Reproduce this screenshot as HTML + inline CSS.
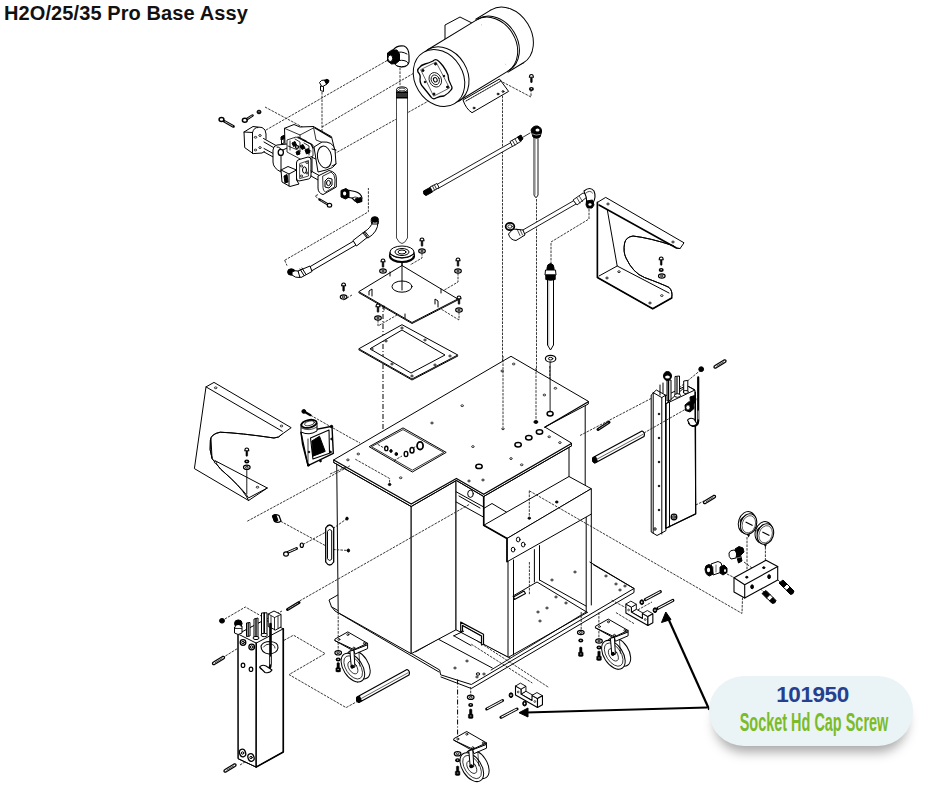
<!DOCTYPE html>
<html><head><meta charset="utf-8">
<style>
html,body{margin:0;padding:0;background:#fff;}
body{width:940px;height:788px;position:relative;overflow:hidden;font-family:"Liberation Sans",sans-serif;}
#title{position:absolute;left:4px;top:2px;font-weight:bold;font-size:20px;color:#111;white-space:nowrap;letter-spacing:0.1px;}
svg{position:absolute;left:0;top:0;}
.s{stroke:#000;fill:none;stroke-width:1;stroke-linejoin:round;stroke-linecap:round}
.t{stroke:#000;fill:none;stroke-width:1.6;stroke-linejoin:round;stroke-linecap:round}
.w{stroke:#000;fill:#fff;stroke-width:1;stroke-linejoin:round}
.k{stroke:#000;fill:#000;stroke-width:1}
.d{stroke:#222;fill:none;stroke-width:0.9;stroke-dasharray:2.6 1.1}
.dd{stroke:#000;fill:none;stroke-width:1;stroke-dasharray:5 2 1 2}
#callout{position:absolute;left:709px;top:676px;width:204px;height:70px;border-radius:35px;background:#eaf3f6;box-shadow:0 12px 12px -6px rgba(0,0,0,0.35);}
#c1{position:absolute;left:1.5px;width:204px;top:6px;text-align:center;font-weight:bold;font-size:22.5px;color:#25408f;letter-spacing:-0.4px;}
#c2{position:absolute;left:-97.5px;width:404px;top:32px;text-align:center;font-size:25px;font-weight:bold;color:#7cbb28;transform:scaleX(0.578);white-space:nowrap;}
</style></head>
<body>
<div id="title">H2O/25/35 Pro Base Assy</div>
<svg width="940" height="788" viewBox="0 0 940 788">
<!-- ===== dashed guide lines ===== -->
<g id="dashes">
  <path class="d" d="M266,130 L388,60"/>
  <path class="d" d="M322,127 L414,73"/>
  <path class="d" d="M334,154 L432,99"/>
  <path class="d" d="M265,107 L306,129"/>
  <path class="d" d="M322,92 L322,140"/>
  <path class="d" d="M400,64 L400,86"/>
  <path class="d" d="M502.5,82 L531,97 L531,90"/>
  <path class="d" d="M502.5,92 L502.5,426"/>
  <path class="d" d="M536.5,199 L536.5,421"/>
  <path class="d" d="M589,209 L589,219 L551,242 L551,265"/>
  <path class="dd" d="M383,304 L383,436"/>
  <path class="d" d="M549.8,366 L549.8,413"/>
</g>



<!-- ===== screw defs ===== -->
<defs>
  <g id="scr">
    <path d="M-0.8,-2 L-0.8,2.5 L0,3.5 L0.8,2.5 L0.8,-2" fill="#000" stroke="#000" stroke-width="0.6"/>
    <path d="M-2,-2.2 Q-2,-5 0,-5 Q2,-5 2,-2.2 Z" fill="#fff" stroke="#000" stroke-width="1.1"/>
  </g>
  <g id="wsh"><ellipse cx="0" cy="0" rx="3.3" ry="2.2" fill="#fff" stroke="#000" stroke-width="1.2"/><ellipse cx="0" cy="0" rx="1.3" ry="0.9" fill="none" stroke="#000" stroke-width="0.9"/></g>
  <g id="nut"><ellipse cx="0" cy="0" rx="2.5" ry="2" fill="#000"/><ellipse cx="0" cy="-0.3" rx="0.8" ry="0.5" fill="#fff"/></g>
  <g id="caster">
    <path class="w" d="M0,0 L12.9,-7.2 L32.7,4.2 L32.7,5.7 L19,12 L0,1.5 Z"/>
    <path class="s" d="M0,1.5 L19,10.5 L32.7,4.2 M19,10.5 L19,12"/>
    <circle class="s" cx="4" cy="0.3" r="1" style="stroke-width:0.8"/><circle class="s" cx="13" cy="-4.5" r="1" style="stroke-width:0.8"/><circle class="s" cx="29.5" cy="4.2" r="1" style="stroke-width:0.8"/><circle class="s" cx="19" cy="9" r="1" style="stroke-width:0.8"/>
    <ellipse class="w" cx="23.5" cy="25.5" rx="9.5" ry="16" transform="rotate(-33 23.5 25.5)"/>
    <path d="M10.5,17 L17,12.5 L29,38 L22.5,42.5 Z" fill="#fff"/>
    <path class="s" d="M10.5,17 L17,12.5 M29,38.5 L22.5,43"/>
    <ellipse class="w" cx="18" cy="28.5" rx="9.5" ry="16" transform="rotate(-33 18 28.5)"/>
    <ellipse class="s" cx="18.3" cy="28.3" rx="7.3" ry="13" transform="rotate(-33 18.3 28.3)" style="stroke-width:0.7"/>
    <ellipse class="s" cx="18" cy="28.5" rx="4" ry="7" transform="rotate(-33 18 28.5)" style="stroke-width:0.7"/>
    <path class="w" d="M15,12 L19,11 L20,28 L16.5,29 Z"/>
    <path class="w" d="M19,11 L32.7,5.7 L32.7,9.5 L20,15 Z"/>
    <path class="s" d="M24,13 L25,27" style="stroke-width:0.7"/>
    <circle class="k" cx="17.5" cy="27.5" r="1.5"/>
  </g>
  <g id="bolt"><path d="M-1.2,-4.5 Q0,-5.5 1.2,-4.5 L1.2,0 L2.3,0.5 L2.3,4 Q0,5 -2.3,4 L-2.3,0.5 L-1.2,0 Z" fill="#000" stroke="#000" stroke-width="0.5"/><path d="M-0.8,2 L0.8,2" stroke="#fff" stroke-width="0.6"/></g>
  <g id="pin"><path d="M-5,3 L4,-2.5 Q6,-3 6,-1.5 Q6,-0.5 5,0 L-4,5.5 Q-6,6 -6,4.5 Q-6,3.5 -5,3 Z" fill="#fff" stroke="#000" stroke-width="1.3"/><path d="M-3.5,3.8 L4,-0.8" stroke="#000" stroke-width="0.7"/></g>
  <g id="hole"><ellipse cx="0" cy="0" rx="1.3" ry="0.9" fill="#fff" stroke="#000" stroke-width="0.8"/></g>
</defs>
<!-- ===== top cover plate ===== -->
<g id="plate">
  <path class="d" d="M343.6,300 L352,295"/>
  <path class="d" d="M422,253 L422,258 L410,265"/>
  <path class="d" d="M458,273 L458,282 L441,292"/>
  <path class="d" d="M459,312 L459,320 L441,309"/>
  <path class="d" d="M378,320 L378,326 L397,315"/>
  <path class="s" d="M402,262 L402,290"/>
  <path class="w" d="M358.8,291.7 L402,265.5 L457.8,299 L412,322.5 Z"/>
  <path class="s" d="M358.8,292.7 L412,323.5 L457.8,300"/>
  <ellipse class="s" cx="402" cy="286.6" rx="10" ry="5.6"/>
  <path class="s" d="M402,262 L402,290"/>
  <path class="s" d="M369,295 L369,291 L372,289 L372,296 M441,293 L441,289 M384,310 L384,306 M405,318 L405,314 M435,304 L435,299 L438,301 L438,307 M390,276 L390,272"/>
  <!-- grommet -->
  <ellipse class="w" cx="402" cy="256" rx="12" ry="6" style="stroke-width:2.2"/>
  <path class="w" d="M390,256 L390,252 L414,252 L414,256"/>
  <ellipse class="w" cx="402" cy="252" rx="12" ry="6"/>
  <ellipse class="w" cx="402" cy="252" rx="7" ry="3.5"/>
  <ellipse class="s" cx="402" cy="252" rx="4" ry="2"/>
  <path class="s" d="M390,254 Q402,262 414,254"/>
  <use href="#scr" x="383" y="264"/><use href="#wsh" x="383" y="271"/>
  <use href="#scr" x="422" y="243"/><use href="#wsh" x="422" y="251"/>
  <use href="#scr" x="458" y="263"/><use href="#wsh" x="458" y="271"/>
  <use href="#scr" x="343.6" y="288"/><use href="#wsh" x="343.6" y="297"/>
  <use href="#scr" x="378" y="309"/><use href="#wsh" x="378" y="318"/>
  <use href="#scr" x="459" y="301"/><use href="#wsh" x="459" y="310"/>
</g>
<!-- ===== gasket ===== -->
<g id="gasket">
  <path class="w" fill-rule="evenodd" d="M358.8,348.8 L402,324.7 L457.8,355 L412,379 Z M370,348.8 L402,330 L445,355 L411,373 Z"/>
  <path class="s" d="M358.8,349.8 L412,380 L457.8,356"/>
  <use href="#hole" x="372" y="349"/><use href="#hole" x="402" y="328"/><use href="#hole" x="450" y="356"/><use href="#hole" x="412" y="376"/>
  <use href="#hole" x="386" y="341"/><use href="#hole" x="425" y="340"/><use href="#hole" x="435" y="365"/><use href="#hole" x="392" y="364"/>
</g>
<!-- ===== right bracket ===== -->
<g id="bracketR">
  <path class="w" d="M597.4,202.4 L605.7,197.4 L684,242.8 L680,248.6 Q676,249 673,245.6 Q650,238 633,236 Q626,237 624.6,243 Q623,252 626,258 Q633,273 644.5,277.5 Q662,284 669,287.4 Q673,291 671.7,298 L652.7,308.8 L597.4,277.5 Z"/>
  <path class="t" d="M597.4,202.4 L597.4,277.5 L652.7,308.8 L671.7,298"/>
  <path class="t" d="M599,205 L676,247.8"/>
  <path class="s" d="M607.3,209.8 L617.2,266 L669,293 M617.2,266 L599,276"/>
  <path class="s" d="M680,248.6 Q676,249 673,245.6 Q650,238 633,236 Q626,237 624.6,243 Q623,252 626,258 Q633,273 644.5,277.5 Q662,284 669,287.4 Q673,291 671.7,298"/>
  <use href="#hole" x="608" y="204"/><use href="#hole" x="673" y="242"/><use href="#hole" x="607" y="278"/><use href="#hole" x="619" y="271.7"/><use href="#hole" x="650" y="303"/><use href="#hole" x="661.8" y="295.6"/>
  <use href="#scr" x="661.2" y="262"/><use href="#nut" x="661.2" y="270"/><use href="#wsh" x="661.8" y="276"/>
</g>

<!-- ===== left hose ===== -->
<g id="hose3">
  <path class="d" d="M284.7,260.3 L368.4,211.8 L368.4,188"/>
  <path class="d" d="M284.7,260.3 L287,265.6"/>
  <path class="w" d="M309.8,266.8 L353.7,241 L356,245 L311.6,270.9 Z"/>
  <path class="w" d="M353,240.5 L364,232 Q367,231 369,236 L356.5,246 Z"/>
  <path class="w" d="M364,232 Q371,228 373,221 L378,222 Q378,232 368,238 Z"/>
  <path class="s" d="M363,233 L367,238 M365,231.5 L369,236.5"/>
  <ellipse class="k" cx="374.8" cy="219.5" rx="3.6" ry="2.8"/>
  <path class="s" d="M371,221 L372,224 L378,224 L378.5,221"/>
  <path class="w" d="M298,271 L310,266 L312,271.5 L301,277.5 Q297,276 298,271 Z"/>
  <path class="s" d="M300,269 L304,275.5 M302,268 L306,274.5"/>
  <ellipse class="k" cx="291.3" cy="272" rx="3.7" ry="3.2"/>
  <path class="w" d="M292,275 Q295,278 300,277.5 L298,271 Q295,270 292,272 Z"/>
</g>
<!-- ===== pump ===== -->
<g id="pump">
  <!-- bolts / nut left -->
  <path class="s" d="M223.5,120.8 L233.5,126.5" style="stroke-width:2.6"/>
  <path class="s" d="M225,121.6 L233,126.2" style="stroke:#fff;stroke-width:0.7;stroke-dasharray:0.8 0.8"/>
  <ellipse class="w" cx="221.5" cy="119.5" rx="2.4" ry="2" style="stroke-width:1.5"/>
  <path class="s" d="M246.5,119.3 L252.5,115.5" style="stroke-width:2.6"/>
  <path class="s" d="M247.5,118.7 L252,115.8" style="stroke:#fff;stroke-width:0.7;stroke-dasharray:0.8 0.8"/>
  <ellipse class="w" cx="244.8" cy="120.3" rx="2.4" ry="2" style="stroke-width:1.5"/>
  <ellipse class="k" cx="259" cy="112" rx="2" ry="1.8"/>
  <ellipse cx="259" cy="111.7" rx="0.7" ry="0.5" fill="#fff"/>
  <!-- fitting top -->
  <path class="w" d="M319.5,82.5 Q321,79.5 325,80 L327,84 L322,87 Z"/>
  <path class="k" d="M324.5,80.5 Q327,78 329,80.5 Q329,83 326.5,84 Z"/>
  <path class="w" d="M320.5,86 L320.5,90.5 L323.5,91.5 L323.5,86.5 Z"/>
  <!-- left flange -->
  <path class="w" d="M244,132 L253,126.5 L262,127.5 Q266,129 266,134 L266,148 Q266,152 262,153 L253.1,153.6 L244.7,147.6 Z"/>
  <path class="s" d="M244,132 L252.5,132.5 M252.5,132.5 L252.5,153.5 M252.5,132.5 Q254,127 258,127.5"/>
  <use href="#hole" x="255.5" y="137.3"/><use href="#hole" x="260" y="135.5"/><use href="#hole" x="255.5" y="150"/><use href="#hole" x="260" y="147.6"/>
  <!-- rods -->
  <path class="w" d="M264,138 L276,145 L276,158 L264,151 Z" style="stroke:none"/>
  <path class="s" d="M263.5,138.5 L276,145.5 M264,142 L276,149 M264,148.5 L275,154.5 M264,152 L275,158"/>
  <!-- upper box -->
  <path class="w" d="M284.5,128.3 L294,124.5 L300,127 L313.4,126.5 L331.5,136.7 L335,151.2 L318,160 L285,145 Z"/>
  <path class="s" d="M284.5,128.3 L300,135 L313.4,128 M300,135 L300,145 M313.4,126.5 L316,140 L331.5,146" style="stroke-width:0.8"/>
  <path class="s" d="M315,128 L331,137.5" style="stroke-width:1.4"/>
  <!-- main front -->
  <path class="w" d="M273,150 Q273,146 277,145 L287,144 L312,156 L312,172 L298,180 L281,172 Q273,168 273,162 Z"/>
  <path class="s" d="M277,147 Q281,147 281,151 L281,171 M281,151 L287,148 L311,159"/>
  <ellipse class="w" cx="280.8" cy="152.4" rx="2.6" ry="3" style="stroke-width:1.3"/>
  <path class="w" d="M281.5,136.5 L284,135.5 L284,143 L281.5,144 Z"/>
  <path class="k" d="M281,137 L284.5,135.5 L284.5,138.5 L281,140 Z"/>
  <!-- dark fittings cluster -->
  <path class="w" d="M287,140 L296,137 L313,145 L313,156 L302,160 L287,152 Z" style="stroke-width:0.8"/>
  <path class="s" d="M290,141 L290,150 M295,139 L300,142 L300,152 M304,143 L309,146 L309,155 M288,146 L300,151 M300,147 L311,151" style="stroke-width:0.8"/>
  <path class="k" d="M292,143 L295,141.5 L296.5,145 L293.5,146.5 Z"/>
  <path class="k" d="M300,146 L303,144.5 L305,148 L302,149.5 Z"/>
  <path class="k" d="M305,150 L308.5,148.5 L310,152.5 L306.5,154 Z"/>
  <path class="k" d="M296,152 L299,151 L300,154 L297,155 Z"/>
  <ellipse class="w" cx="297" cy="147" rx="1.6" ry="1.4" style="stroke-width:1.2"/>
  <path class="s" d="M303,140 L311,144 L313,148 M298,137 L306,141" style="stroke-width:1.3"/>
  <!-- right round face -->
  <path class="w" d="M314,147 L322,142 Q333,141 335,150 L336,164 Q334,168 326,170 L318,172 Z"/>
  <ellipse class="w" cx="324.5" cy="157" rx="7" ry="11" transform="rotate(-10 324.5 157)"/>
  <path class="s" d="M332,149 L336,150 M332,166 L336,164"/>
  <!-- front plate -->
  <path class="w" d="M296.5,163 Q296.5,160 299,159.6 L308,157 Q311,157 311,160 L311,176 Q311,178 308.5,179 L299,181 Q296.5,181 296.5,178 Z"/>
  <path class="s" d="M300,163.5 L308.5,160.5 L308.5,176 L300,178.5 Z" style="stroke-width:0.7"/>
  <ellipse class="s" cx="304.5" cy="170" rx="2" ry="3.2"/>
  <use href="#hole" x="301.5" y="166"/><use href="#hole" x="307" y="162.5"/><use href="#hole" x="301.5" y="176"/><use href="#hole" x="307" y="173"/>
  <!-- lower block -->
  <path class="w" d="M281,170 L288,166.5 L296.5,170 L296.5,180 L299,184 L290,186.5 L282,182 Z"/>
  <path class="s" d="M281,170 L289,174 L296.5,170 M289,174 L289,186"/>
  <path class="k" d="M284,176 L287,174.5 L288,182 L285,183 Z"/>
  <path class="s" d="M311,171 L321,176.5 M311,176 L319,180.5"/>
  <!-- lower right flange -->
  <path class="w" d="M318,176 L329,170.5 Q336.3,172 336.3,178 L336.3,187 L323,194.6 Q318,193 318,188 Z"/>
  <path class="s" d="M323,176 L331,172 Q335,174 335,180 L334.5,187 L325.5,192 Q323,191 323,188 Z" style="stroke-width:0.8"/>
  <path class="w" d="M325,181 L328,178 L332,179 L332,185 L329,188 L325,187 Z"/>
  <ellipse class="s" cx="328.5" cy="183" rx="2" ry="2.6"/>
  <path class="d" d="M318,194.6 L315,196 L319,199"/>
  <!-- bolt lower -->
  <path class="s" d="M319.5,199.5 L328,204.5" style="stroke-width:2.4"/>
  <path class="s" d="M321,200.5 L327.5,204.2" style="stroke:#fff;stroke-width:0.6;stroke-dasharray:1 1"/>
  <ellipse class="w" cx="329.5" cy="205.3" rx="2.2" ry="1.9" style="stroke-width:1.2"/>
  <!-- elbow lower -->
  <path class="w" d="M345,189.5 L355,191.5 Q361,193 362,198 L361.5,201 Q358,203 355,201 L352,198 L345,197 Z" style="stroke-width:1.2"/>
  <path class="s" d="M352,198 Q355,196 358,197.5" style="stroke-width:0.8"/>
  <path class="k" d="M341,190.5 L346,188.5 L349,191 L349,197 L345.5,199 L341,197 Z"/>
  <ellipse cx="344.6" cy="193.6" rx="1.6" ry="2" fill="#fff"/>
  <path class="k" d="M355,199 L361,197.5 L362,201.5 L357,203 Z"/>
</g>
<!-- ===== elbow + vertical pipe ===== -->
<g id="pipe1">
  <path class="w" d="M393,50 Q397,45 404,46 Q409,48 409,56 L409,62 Q408,67 401.5,67 Q396,66.5 394,62 Z" style="stroke-width:1.2"/>
  <ellipse class="w" cx="401.5" cy="63.5" rx="6.5" ry="3.2"/>
  <path class="s" d="M396,53 Q401,50.5 407,54"/>
  <path class="k" d="M387.5,53 L392,50 L397,50 L399.5,54 L399.5,60.5 L396,63.5 L391.5,64 L387.5,61 Z"/>
  <ellipse cx="390.3" cy="58.3" rx="2.4" ry="3.2" fill="#fff" stroke="#000" stroke-width="1"/>
  <path class="w" d="M396.5,90 L396.5,238 Q402,249 407.5,238 L407.5,90 Z" style="stroke-width:0.9;stroke:#333"/>
  <rect class="k" x="396.5" y="92" width="11" height="6"/>
  <path class="s" d="M397,94 L407,94 M397,96 L407,96" style="stroke:#fff;stroke-width:0.4"/>
  <ellipse class="w" cx="402" cy="89.5" rx="5.5" ry="2.6"/>
  <ellipse cx="402" cy="89.5" rx="3.3" ry="1.4" fill="#fff" stroke="#000" stroke-width="0.7"/>
</g>
<!-- ===== upper hose + tube ===== -->
<g id="hose1">
  <path class="w" d="M436,185 L511,142.5 L513,146 L438,188.5 Z" style="stroke-width:0.9"/>
  <path class="k" d="M423.5,191 L430,187.5 L432.5,192 L426,195.5 Q423,195 423.5,191 Z"/>
  <path class="w" d="M430,187 L437,183.5 L439,187.5 L432.5,191.5 Z" style="stroke-width:0.9"/>
  <path class="s" d="M432.5,186 L434.5,190 M434.5,185 L436.5,189" style="stroke-width:0.8"/>
  <path class="w" d="M510,141.5 L519,136.5 L521.5,141 L512.5,146.5 Z" style="stroke-width:0.9"/>
  <path class="s" d="M512.5,140.5 L515,145 M515,139 L517.5,143.5" style="stroke-width:0.8"/>
  <path class="k" d="M517.5,137 L521,135 L523,139 L520,141 Z"/>
  <path class="s" d="M522.5,137.5 L530,133" style="stroke-width:0.8"/>
  <path class="w" d="M534,137 L534,195 Q536,200 538,195 L538,137 Z" style="stroke-width:0.9"/>
  <path class="s" d="M535.5,139 L535.5,195" style="stroke-width:0.5;stroke:#777"/>
  <path class="k" d="M531,130 Q533,125.5 537.5,126 Q542,127.5 541.5,132 L540,137 Q536,139.5 533,137 Z"/>
  <ellipse cx="537.5" cy="130" rx="2" ry="1.6" fill="#fff"/>
  <path class="s" d="M532.5,134 Q536,136 540,134.5" style="stroke:#fff;stroke-width:0.6"/>
</g>
<!-- ===== lower hose (right) ===== -->
<g id="hose2">
  <path class="w" d="M522,230.5 L574,200.5 L576,204 L524,234 Z" style="stroke-width:0.9"/>
  <path class="w" d="M573,200 L583,193 Q586.5,193 587,197 L577,205 Z" style="stroke-width:0.9"/>
  <path class="s" d="M577,198 L580,203 M579.5,196.5 L582.5,201.5" style="stroke-width:0.7"/>
  <path class="w" d="M584,191 Q590,186 594,191 Q596.5,197 593,203 L587,204 Q587,197 584,191 Z" style="stroke-width:1.1"/>
  <path class="s" d="M586,193 Q590,189.5 592.5,193" style="stroke-width:0.7"/>
  <path class="k" d="M586.5,201 L592.5,200 L594,205 L592,208 L587.5,208 L586,205 Z"/>
  <ellipse cx="590" cy="204.5" rx="1.6" ry="1.2" fill="#fff"/>
  <path class="w" d="M513,229 L523,230 L525,235 L516,240.5 Q510,240 508.5,234 Z" style="stroke-width:1"/>
  <path class="s" d="M517,229 L520,235.5 M520,229.5 L522.5,235" style="stroke-width:0.7"/>
  <ellipse class="w" cx="510" cy="226.5" rx="4.3" ry="3.6" style="stroke-width:1.8"/>
  <ellipse class="s" cx="510" cy="226.5" rx="2.2" ry="1.7" style="stroke-width:0.8"/>
</g>
<!-- ===== lower vertical tube ===== -->
<g id="tube2">
  <path class="w" d="M547.5,279 L547.5,345 L550.5,350 L553.5,345 L553.5,279 Z"/>
  <path class="s" d="M548.8,281 L548.8,346" style="stroke-width:0.6;stroke:#888"/>
  <path class="k" d="M547,268 Q547,264 550.5,263.5 Q554,264 554,268 L554,270 L547,270 Z"/>
  <path class="w" d="M545.5,270 L555.5,270 L556,275 L545,275 Z" style="stroke-width:1"/>
  <path class="k" d="M545.8,275 L555.2,275 L555.2,279.5 Q550.5,281 545.8,279.5 Z"/>
  <ellipse class="w" cx="550.6" cy="358.7" rx="5.2" ry="3.4" style="stroke-width:1.2"/>
  <ellipse class="s" cx="550.6" cy="358.7" rx="2.2" ry="1.3" style="stroke-width:1"/>
</g>
<!-- ===== motor ===== -->
<g id="motor">
  <!-- top hidden mount -->
  <path class="w" d="M445,25 L460,17 L472,23 L472,40 L445,40 Z"/>
  <g transform="translate(439,78) rotate(-31.4)">
    <ellipse class="w" cx="80" cy="0" rx="24" ry="31"/>
    <path d="M64,-31 L80,-31 L80,31 L64,31 Z" fill="#fff"/><path class="s" d="M62,-31 L80,-31 M62,31 L80,31"/>
    <rect x="5" y="-30" width="59" height="60" fill="#fff" stroke="none"/>
    <path class="s" d="M5,-30 L62,-30 M5,30 L62,30"/>
    <path class="s" d="M62,-30 A24,30 0 0 1 62,30"/>
    <path class="s" d="M64,-30 A24,30 0 0 1 64,30"/>
    <ellipse class="w" cx="5" cy="0" rx="24" ry="30"/>
    <ellipse class="w" cx="0" cy="0" rx="24" ry="30"/>
  </g>
  <!-- flange (screen coords) -->
  <path class="w" d="M419,68 Q417,69.5 418,72 Q421,75 420,79 Q420,84 423,87 Q428,93 431,97 Q433,100 436,98 Q440,96 444,96 Q449,93 451,90 Q453,88 451,85 Q448,80 448,75 Q446,70 443,66 Q439,61 437,60 Q435,59 433,61 Q429,63 425,64 Q421,65 419,68 Z" style="stroke-width:1.3"/>
  <path class="s" d="M421,69.5 L436,62 L449.5,88 L434,96 Z" style="stroke-width:0.6"/>
  <circle class="k" cx="423" cy="70.5" r="1"/><circle class="k" cx="435.5" cy="64" r="1"/><circle class="k" cx="447.5" cy="87" r="1"/><circle class="k" cx="434" cy="94" r="1"/>
  <circle class="k" cx="425" cy="82" r="0.8"/><circle class="k" cx="444" cy="76" r="0.8"/>
  <ellipse class="w" cx="435.3" cy="79.8" rx="6" ry="7.5" transform="rotate(-25 435.3 79.8)" style="stroke-width:0.8"/>
  <ellipse class="s" cx="435.3" cy="79.8" rx="4" ry="5" transform="rotate(-25 435.3 79.8)" style="stroke-width:0.8"/>
  <ellipse class="s" cx="435.3" cy="79.8" rx="1.8" ry="2.3" transform="rotate(-25 435.3 79.8)" style="stroke-width:1"/>
  <!-- foot -->
  <path class="w" d="M463,100 L499.5,79 L508.6,91.4 L472,112.7 Q466,109 463,100 Z"/>
  <path class="s" d="M466,101 L501,81" stroke-dasharray="1 1"/>
  <circle class="s" cx="474" cy="108" r="0.9"/><circle class="s" cx="498" cy="94" r="0.9"/><circle class="s" cx="503" cy="91.5" r="0.9"/>
  <!-- screw + nut right -->
  <use href="#scr" x="531.4" y="79.5"/>
  <use href="#nut" x="531.4" y="89"/>
</g>

<!-- ===== base plate ===== -->
<g id="base">
  <path class="w" d="M329,600 L336,596 L492,503.5 L634,588.5 L471.3,684.5 L440.6,674.8 L439.7,670 L331.5,606.8 Z"/>
  <path class="s" d="M331.5,606.8 L335,611 L439,672 M441,677 L471.3,688.5 L634,592.5 L634,588.5"/>
  <path class="s" d="M415.7,651.8 L456,628.8 L500,652.8 M438.7,639.4 L492.3,668 M500,652.8 L510,658"/>
  <use href="#hole" x="455" y="668"/><use href="#hole" x="467" y="661"/><use href="#hole" x="477" y="677"/><use href="#hole" x="484" y="674"/>
  <use href="#hole" x="606" y="576"/><use href="#hole" x="616" y="584"/><use href="#hole" x="625" y="586"/><use href="#hole" x="620" y="590"/>
</g>
<!-- ===== cabinet ===== -->
<g id="cabinet">
  <!-- frame back wall + floor -->
  <path class="w" d="M513,490 L586,470 L591.3,605 L587.3,612.4 L509,657 L509,560 Z" style="stroke:none"/>
  <path class="s" d="M513,596 L537,582 L587.3,612.4 M509,657 L587.3,612.4 M593.4,564.7 L634,588.5"/>
  <use href="#hole" x="556" y="597"/><use href="#hole" x="566" y="603"/><use href="#hole" x="547" y="608"/><use href="#hole" x="538" y="612"/><use href="#hole" x="540" y="621"/><use href="#hole" x="552" y="580"/><use href="#hole" x="575" y="572"/>
  <!-- left box -->
  <path class="w" d="M336.7,462 L411.2,505 L411.2,653.7 L338.2,612.6 Z"/>
  <path class="w" d="M411.2,505 L456,479 L456,629.8 L411.2,653.7 Z"/>
  <!-- middle column face -->
  <path class="w" d="M456,479 L483.7,495 L483.7,525 L508,538.5 L508,657 L456,629.8 Z"/>
  <path class="s" d="M513.5,560 L513.5,655 M456.2,491.8 L483.7,507 M456.2,502 L483.7,517.2 M459,496 L480,508"/>
  <ellipse class="s" cx="470.5" cy="493.8" rx="2.8" ry="3.6"/>
  <!-- open frame right -->
  <path class="s" d="M569,448 L569,476.5 M585.2,404 L585.2,485.7 M586.2,517 L586.2,612 M591.3,514 L591.3,605"/>
  <path class="s" d="M534.4,549.6 L534.4,582 M539.5,545.6 L539.5,580 M539.5,580 L586,606"/>
  <path class="s" d="M513.5,597 L524,591 L525.5,593.5 L514.5,599.5 Z" style="stroke-width:1.1"/>
  <path class="d" d="M529.4,562 L529.4,595"/>
  <!-- shelf -->
  <path class="w" d="M483.7,525.3 L569,476.5 L591.3,488.7 L507,538.5 Z"/>
  <path class="w" d="M507,538.5 L591.3,488.7 L591.3,514.1 L507,561.8 Z"/>
  <path class="t" d="M483.7,495 L483.7,525.3 L507,538.5 L507,561.8"/>
  <ellipse class="s" cx="518.2" cy="539.5" rx="1.8" ry="2.4"/><ellipse class="s" cx="523.2" cy="544.6" rx="1.8" ry="2.4"/><ellipse class="s" cx="513.1" cy="549.6" rx="1.8" ry="2.4"/>
  <ellipse class="k" cx="529.3" cy="518.2" rx="1.3" ry="1"/><ellipse class="k" cx="556.8" cy="502" rx="1.3" ry="1"/>
  <path class="d" d="M529.3,490.8 L529.3,518.2 M529.3,490.8 L590,525.8"/>
  <!-- top plate -->
  <path class="w" d="M333.7,459.9 L511,356.3 L588.3,401.3 L588.3,404 L544.8,427 L571.4,443 L571.4,446 L483.7,496.5 L456.4,480.5 L411.2,506.5 L333.7,462.5 Z"/>
  <path class="t" d="M333.7,460 L411.2,504 L456.4,478.5 L483.7,494.3 L571.4,443.5 M544.8,427.3 L588.3,401.8" style="stroke-width:1.3"/>
  <path class="s" d="M333.7,462.5 L411.2,506.5 L456.4,480.5 L483.7,496.5 L571.4,446"/>
  <path class="s" d="M369.5,446.5 L403,427.9 L446.2,452.4 L412.7,471.8 Z" style="stroke-width:1"/>
  <path class="s" d="M371.8,446.5 L403,429.6 L443.8,452.4 L412.7,470 Z" style="stroke-width:0.8"/>
  <ellipse class="w" cx="386.3" cy="448.4" rx="1.6" ry="2.2" style="stroke-width:1.4"/>
  <ellipse class="k" cx="391" cy="451" rx="1.2" ry="1.4"/>
  <ellipse class="k" cx="396.3" cy="454" rx="1.3" ry="1.5"/>
  <ellipse class="w" cx="406" cy="454" rx="1.8" ry="2.6" style="stroke-width:1.4"/>
  <ellipse class="w" cx="412" cy="450.2" rx="2" ry="2.8" style="stroke-width:1.5"/>
  <ellipse class="w" cx="420.1" cy="445.7" rx="3" ry="3.8" style="stroke-width:1.8"/>
  <path class="d" d="M377.7,444.3 L384,448 M413,448 L417,446 M394,460.6 L402,456 M355.3,459.2 L389.6,478.5 L389.6,484.5"/>
  <use href="#hole" x="358.3" y="454"/><use href="#hole" x="400.7" y="477.8"/><use href="#hole" x="432" y="423"/><use href="#hole" x="347.9" y="459.9"/>
  <ellipse class="k" cx="389.6" cy="484.5" rx="1.3" ry="1.1"/>
  <use href="#hole" x="513.7" y="364"/><use href="#hole" x="502.2" y="371"/><use href="#hole" x="462.2" y="405.7"/><use href="#hole" x="555.4" y="388.3"/><use href="#hole" x="544.4" y="395"/>
  <ellipse class="w" cx="550.1" cy="413.7" rx="3" ry="2.2" style="stroke-width:1.5"/>
  <ellipse class="k" cx="535.9" cy="422" rx="2" ry="1.4"/>
  <use href="#hole" x="503" y="428.8"/>
  <ellipse class="w" cx="539.5" cy="432" rx="3.2" ry="2.2" style="stroke-width:1.5"/>
  <ellipse class="w" cx="528.8" cy="437.7" rx="3.2" ry="2.2" style="stroke-width:1.5"/>
  <ellipse class="w" cx="518.1" cy="444.8" rx="3.2" ry="2.2" style="stroke-width:1.5"/>
  <ellipse class="w" cx="479" cy="466.4" rx="3.2" ry="2.2" style="stroke-width:1.5"/>
  <use href="#hole" x="472.9" y="446.6"/><use href="#hole" x="549.2" y="436.8"/><use href="#hole" x="559.9" y="442.6"/><use href="#hole" x="511" y="458.6"/><use href="#hole" x="521.7" y="464.8"/>
  <use href="#hole" x="469" y="481"/><use href="#hole" x="483" y="480"/>
  <path class="s" d="M550.1,362 L550.1,411" style="stroke-width:0.9"/>
  <path class="d" d="M503,356 L503,427 M536,368 L536,420.5"/>
</g>
<!-- ===== base front details ===== -->
<g id="basefront">
  <path class="s" d="M453.8,635.8 L463.7,631.2 M453.8,635.8 L471,645.5"/>
  <path class="w" d="M460.7,622.1 L483.5,634.3 L483.5,644.2 L481.5,645 L481.5,636 L462.5,625.5 L462.5,631 L460.7,632 Z" style="stroke-width:1.2"/>
  <path class="s" d="M462.5,625.5 L481.5,636" style="stroke-width:0.7"/>
  <path class="d" d="M471.3,644.2 L532.3,683 M477.4,641.1 L549,687.6"/>
  <path class="s" d="M491.1,670 L586,612" style="stroke-width:0.9"/>
  <ellipse class="w" cx="478" cy="674" rx="1.8" ry="1.2"/>
</g>
<!-- ===== long dashed lines lower ===== -->
<g id="dash2">
  <path class="d" d="M247.3,521.2 L349.8,465.9"/>
  <path class="d" d="M310.5,415.2 L350,437.6 L360,443"/>
  <path class="d" d="M299.5,601 L470,504 M580,435.5 L652,398"/>
  <path class="d" d="M284,640.3 L293.5,635.2 L325.2,653.6 L289,674.6 L346.1,707.6 L357.6,701.2"/>
  <path class="d" d="M224.8,619 L245.4,607 L262.5,616.8"/>
  <path class="d" d="M590,525.8 L742,613.4 L742.5,597.4"/>
  <path class="d" d="M679,388 L701.7,369.2"/>
  <path class="d" d="M695.7,505 L704,501"/>
  <path class="d" d="M338.2,612.6 L338.2,651"/>
  <path class="d" d="M581.2,612 L581.2,630"/>
  <path class="d" d="M598.9,612.4 L598.9,639.8"/>
  <path class="dd" d="M457.6,679.5 L457.6,737.7"/>
  <path class="d" d="M470.7,687 L470.7,696"/>
  <path class="d" d="M611.7,600.2 L634,612 L652,602 M634,623.6 L615,612"/>
  <path class="d" d="M346,467 L330,474"/>
  <path class="d" d="M244,631 L282,611"/>
  <path class="d" d="M225.4,656 L238,648.2"/>
  <path class="d" d="M240,765 L248,760"/>
  <path class="d" d="M727,574 L735,578 M744,562 L752,568"/>
  <path class="d" d="M778,580 L782,584 M757,586 L764,592"/>
  <path class="d" d="M747,537 L747,576 M765.4,547 L765.4,567"/>
</g>
<!-- ===== casters ===== -->
<use href="#caster" x="334.9" y="639.1"/>
<use href="#caster" x="595.4" y="626.3"/>
<use href="#caster" x="453.8" y="738.7"/>
<use href="#wsh" x="338.2" y="652.8"/><use href="#nut" x="338.2" y="659.5"/><use href="#bolt" x="338.2" y="667.5"/>
<use href="#wsh" x="580.8" y="632.5"/><use href="#nut" x="580.8" y="640.5"/><use href="#bolt" x="580.8" y="652"/>
<use href="#wsh" x="599" y="641"/><use href="#nut" x="599" y="647.6"/><use href="#bolt" x="599" y="656"/>
<use href="#wsh" x="470.7" y="697.3"/><use href="#nut" x="470.7" y="705"/><use href="#bolt" x="470.7" y="714"/>
<use href="#wsh" x="457.6" y="753.7"/><use href="#nut" x="457.6" y="760.3"/><use href="#bolt" x="457.6" y="771"/>
<!-- ===== handle ===== -->
<g id="handle">
  <path class="d" d="M280.5,521.2 L327,546.5 M333,549.5 L348.4,550.5 M303,544.5 L326,532 M333,528.5 L347,518.6"/>
  <path class="w" d="M325.7,528 Q329.7,522 333.7,528 L333.7,562 Q329.7,568 325.7,562 Z" style="stroke-width:1.3"/>
  <path class="s" d="M327.7,531 Q329.7,528 331.7,531 L331.7,559 Q329.7,562 327.7,559 Z"/>
  <ellipse class="k" cx="348.4" cy="550.5" rx="1.2" ry="1.5"/><ellipse class="k" cx="347" cy="518.6" rx="1.2" ry="1.5"/>
  <path class="w" d="M272.5,516 Q275,513.5 279,515.5 L281,521 Q278,523.5 274.5,521.5 Z" style="stroke-width:1.2"/>
  <path class="k" d="M272.5,516 Q274,514 276,515 L278,520.5 Q276,522 274.5,521.5 Z"/>
  <path class="s" d="M287.5,552.5 L296.5,548.5" style="stroke-width:3"/>
  <path class="s" d="M288.5,552 L296,548.7" style="stroke:#fff;stroke-width:1;stroke-dasharray:1.2 0.8"/>
  <ellipse class="w" cx="286" cy="554" rx="2.4" ry="2.2" style="stroke-width:1.2"/>
  <ellipse class="w" cx="301.8" cy="545.2" rx="1.6" ry="2.2" style="stroke-width:1.2"/>
</g>
<!-- ===== rods ===== -->
<g id="rods">
  <path class="w" d="M357,697 L407,669.5 Q410.5,671 409,675 L359,702.5 Q355.5,701.5 357,697 Z" style="stroke-width:1.2"/>
  <path class="s" d="M358.5,700 L408,672.8" style="stroke-width:0.9;stroke:#555"/>
  <path class="k" d="M356.5,697.5 L359.5,696 L361.5,701 L358.5,702.5 Q355.5,701.5 356.5,697.5 Z"/>
  <path class="w" d="M593,457.5 L642,431 Q645.5,432.5 644,436.5 L595,463 Q591.5,461.5 593,457.5 Z" style="stroke-width:1.2"/>
  <path class="s" d="M594.5,460.5 L643,434.3" style="stroke-width:0.9;stroke:#555"/>
  <path class="k" d="M592.5,458 L595.5,456.5 L597.5,461.5 L594.5,463 Q591.5,462 592.5,458 Z"/>
  <path class="s" d="M598,429.5 L609,422.3" style="stroke-width:3"/>
  <path class="s" d="M599,428.8 L608,423" style="stroke:#fff;stroke-width:0.6;stroke-dasharray:1 1"/>
  <path class="s" d="M287.5,609.5 L299,602.5" style="stroke-width:3"/>
  <path class="s" d="M288.5,608.9 L298,603.1" style="stroke:#fff;stroke-width:0.6;stroke-dasharray:1 1"/>
</g>
<!-- ===== left heat exchanger ===== -->
<g id="hxL">
  <path class="w" d="M238,634 L264.8,619.7 L283.3,628.8 L283.3,752 L256.1,767.1 L238.1,758.7 Z"/>
  <path class="s" d="M238,634 L256.2,643.1 L283.3,628.8"/>
  <path class="t" d="M256.2,643.1 L256.1,767.1 L283.3,752 L283.3,628.8" style="stroke-width:1.6"/><path class="s" d="M238,634 L238.1,758.7 L256.1,767.1"/>
  <circle class="w" cx="243" cy="642.5" r="2.8" style="stroke-width:1.3"/><circle class="s" cx="243" cy="642.5" r="1.3"/>
  <circle class="w" cx="251.7" cy="647" r="2.8" style="stroke-width:1.3"/><circle class="s" cx="251.7" cy="647" r="1.3"/>
  <ellipse class="w" cx="243" cy="665.3" rx="1.8" ry="2.2" style="stroke-width:1.2"/><ellipse class="w" cx="251" cy="669.3" rx="1.8" ry="2.2" style="stroke-width:1.2"/>
  <ellipse class="w" cx="242.6" cy="753" rx="3" ry="3.8" transform="rotate(-20 242.6 753)" style="stroke-width:1.3"/><circle class="s" cx="242.6" cy="753" r="1.2"/>
  <ellipse class="w" cx="251" cy="757.5" rx="3" ry="3.8" transform="rotate(-20 251 757.5)" style="stroke-width:1.3"/><circle class="s" cx="251" cy="757.5" r="1.2"/>
  <path class="w" d="M261,646 Q263,641.5 270,641.5 Q278.5,642 278,648 Q277,653.5 269,654 Q261,653 261,646 Z" style="stroke-width:1.1"/>
  <path class="s" d="M263.5,647 Q265,644 270,644 Q275,644.5 275,648" style="stroke-width:0.8"/>
  <!-- top fittings -->
  <path class="w" d="M268.2,614 L274,611 L281,614.5 L281,627 L275.5,630 L268.2,626.5 Z"/>
  <path class="s" d="M268.2,614 L274.5,617.5 L281,614.5 M274.5,617.5 L274.5,630 M271,616 L271,627 M278,616 L278,628" style="stroke-width:0.8"/>
  <path class="w" d="M246.5,623 L250,622.5 L250,636 L246.5,636.5 Z"/>
  <path class="s" d="M248.2,623 L248.2,636" style="stroke-width:1.2"/>
  <path class="w" d="M254,619 L258,618 L258,638 L254,638.5 Z"/>
  <path class="s" d="M256,619 L256,638" style="stroke-width:1.4"/>
  <ellipse class="w" cx="256" cy="638" rx="3" ry="1.6"/>
  <path class="w" d="M261.5,613 L267,612.8 L267,634 L261.5,635 Z"/>
  <path class="s" d="M264.2,613 L264.2,634" style="stroke-width:1.6"/>
  <ellipse class="w" cx="264.2" cy="635" rx="3.2" ry="1.7"/>
  <path class="w" d="M234.5,627 L242,626 L242,633 Q238,636 234.5,633 Z"/>
  <ellipse class="k" cx="238.3" cy="623.5" rx="3.8" ry="3.6"/>
  <ellipse cx="238.3" cy="626.5" rx="2.6" ry="1.5" fill="#fff"/>
  <path class="s" d="M235,628.5 L241.5,628.5" style="stroke-width:0.8"/>
  <!-- long bar -->
  <path class="s" d="M270.5,624 L270.5,664 Q270.5,670 266,670 L261,668" style="stroke-width:2.6"/>
  <path class="s" d="M270.5,657 L270.5,664" style="stroke:#fff;stroke-width:0.8"/>
  <path class="w" d="M259.5,667 Q262,664 266,666 L272,670 Q270,673.5 265,672.5 Z" style="stroke-width:1.1"/>
  <ellipse class="k" cx="222" cy="620.8" rx="2.5" ry="2.3"/>
  <use href="#pin" x="218.5" y="659"/><use href="#pin" x="230" y="766.5"/>
</g>
<!-- ===== right heat exchanger ===== -->
<g id="hxR">
  <path class="w" d="M651.2,395 L656.3,390 L665.5,395.1 L665.9,530.7 L657,535.5 L651.2,532 Z"/>
  <path class="s" d="M653.2,392.6 L661.8,397.6 L661.8,534 M653.2,392.6 L653.2,533 M661.8,397.6 L665.5,395.1"/>
  <path class="w" d="M665.9,403.8 L686.7,385.5 L694.9,390 L695.7,513.9 L665.9,528.3 Z"/>
  <path class="t" d="M665.9,403.8 L665.9,528.3 L695.7,513.9 L695.4,392" style="stroke-width:1.2"/>
  <path class="s" d="M665.9,403.8 L694.9,390 L686.7,385.5 L665,396 M669.5,402 L669.5,527"/>
  <circle class="k" cx="659" cy="414" r="0.8"/><circle class="k" cx="659" cy="438" r="0.8"/><circle class="k" cx="659" cy="462" r="0.8"/><circle class="k" cx="659" cy="486" r="0.8"/><circle class="k" cx="659" cy="510" r="0.8"/>
  <circle class="w" cx="655" cy="529" r="1.2"/>
  <circle class="w" cx="674" cy="517" r="2.8" style="stroke-width:1.3"/><circle class="s" cx="674" cy="517" r="1.3"/>
  <!-- top fittings -->
  <path class="w" d="M667,380 L671,380 L671,400 L667,401 Z"/>
  <path class="s" d="M668.5,381 L668.5,400" style="stroke-width:1.4"/>
  <ellipse class="k" cx="667.5" cy="376" rx="4" ry="4.5"/>
  <ellipse cx="667.5" cy="377" rx="2.4" ry="1.6" fill="#fff"/>
  <path class="w" d="M675,376.5 L679.5,376 L679.6,395 L675,396 Z"/>
  <path class="s" d="M677,377 L677,395" style="stroke-width:1.2"/>
  <ellipse class="w" cx="677.5" cy="395.5" rx="3" ry="1.8"/>
  <path class="w" d="M683.7,381 L687.8,380.4 L687.8,391.5 L683.7,392.6 Z"/>
  <ellipse class="w" cx="685.8" cy="392" rx="2.6" ry="1.5"/>
  <path class="s" d="M660,385 L660,395 M663,383 L663,393"/>
  <!-- right side fittings + bar -->
  <path class="s" d="M698.2,377.4 L698.2,421 Q698,426 693,426 L689,423" style="stroke-width:2.2"/>
  <path class="s" d="M698.2,411 L698.2,419" style="stroke:#fff;stroke-width:0.8"/>
  <path class="w" d="M687.5,420 Q690,417 694,419 L697,424 Q694,427 690,425 Z" style="stroke-width:1.1"/>
  <path class="k" d="M690,397 L694.5,395.6 L696,399 L695,403 L690.5,403.5 Z"/>
  <path class="k" d="M685,405 L689,401.7 L693.5,403 L694,408.5 L690,412 L685.5,410.5 Z"/>
  <ellipse cx="688" cy="407.5" rx="2" ry="2.4" fill="#fff" stroke="#000" stroke-width="0.6"/>
  <ellipse class="k" cx="701.2" cy="369.2" rx="2.4" ry="2.4"/>
  <use href="#pin" x="720" y="362.5"/><use href="#pin" x="709.5" y="498"/>
  <path class="d" d="M643.9,433 L685,409.5"/>
</g>
<!-- ===== gauge block ===== -->
<defs>
  <g id="gauge">
    <ellipse cx="-2" cy="-1" rx="8.5" ry="11" transform="rotate(18)" fill="#fff" stroke="#000" stroke-width="1"/>
    <path d="M-9,-4 L-7,-6 L-2,-10 L2,-9 L-4,-4 L-7,3 L-8,6 Z" fill="#000" opacity="0.85"/>
    <ellipse cx="0" cy="0" rx="8" ry="10.5" transform="rotate(18)" fill="#fff" stroke="#000" stroke-width="1.1"/>
    <ellipse cx="0.3" cy="0.2" rx="6.5" ry="8.8" transform="rotate(18)" fill="none" stroke="#000" stroke-width="0.6"/>
    <path d="M-3,-2 L4,1.5" stroke="#000" stroke-width="1.2"/>
    <path d="M-2,10 L1.5,10.5 L0,13.5 Z" fill="#000"/>
  </g>
</defs>
<g id="gauges">
  <path class="w" d="M734,577.8 L766,560.2 L777.7,566.6 L777.7,579.9 L744.7,598 L734,592.1 Z" style="stroke-width:1.1"/>
  <path class="s" d="M734,577.8 L744.7,584.7 L777.7,566.6 M744.7,584.7 L744.7,598" style="stroke-width:1.1"/>
  <ellipse class="k" cx="746.8" cy="577.2" rx="1.2" ry="0.9"/><ellipse class="k" cx="763.8" cy="567.7" rx="1.2" ry="0.9"/>
  <ellipse class="k" cx="752.1" cy="586.8" rx="1.4" ry="2"/><ellipse class="k" cx="769.1" cy="576.7" rx="1.4" ry="2"/>
  <use href="#gauge" x="748.6" y="524"/>
  <use href="#gauge" x="765.4" y="534"/>
  <!-- left elbow -->
  <path class="w" d="M711,564 L718,561.5 Q722,562 722,566 L722,572 L713,575 Z" style="stroke-width:1"/>
  <path class="k" d="M705,569 Q705,565 709,564.5 L712,566 L713,574 L709.5,576 Q705.5,575 705,569 Z"/>
  <ellipse cx="708.5" cy="570" rx="1.6" ry="2.2" fill="#fff"/>
  <path class="k" d="M720,567 L724,565 L727,568 L727,572.5 L723,575 L720,573 Z"/>
  <ellipse cx="725" cy="570.5" rx="1" ry="1.5" fill="#fff"/>
  <path class="s" d="M713,567 L713,574 M716,565 L716,572" style="stroke-width:0.6"/>
  <!-- upper elbow -->
  <path class="w" d="M729,553 Q730,550 734,550 L737,552 L736,558 L731,559 Q728.5,557 729,553 Z"/>
  <path class="k" d="M735,549 L739,546.5 L743,548 L744,552 L741,555 L737,555 Z"/>
  <path class="k" d="M736.5,556 L740.5,554.5 L742,561 L738.5,563 Z"/>
  <path class="s" d="M737,558 L741,557" style="stroke:#fff;stroke-width:0.5"/>
  <!-- right fitting -->
  <path class="k" d="M779,583 L783,580 L787.5,584.5 L784,588 Z"/>
  <path class="w" d="M783.5,587.5 L787,584 L790,587 L787,590.5 Z"/>
  <path class="k" d="M786.5,590.5 L790,587 L794,591 Q793.5,594.5 790.5,594.5 Z"/>
  <!-- lower fitting -->
  <path class="k" d="M762,593.5 L766,590.5 L770.5,595 L767,598.5 Z"/>
  <path class="w" d="M766.5,598 L770,594.5 L773,597.5 L770,601 Z"/>
  <path class="k" d="M769.5,601 L773,597.5 L776,600.5 Q775.5,603.5 772.5,603.5 Z"/>
</g>
<!-- ===== small blocks near right caster ===== -->
<defs>
  <g id="ubr">
    <path class="w" d="M5.5,-0.87 L16.5,5.4 L21.45,2.54 L10.45,-3.73 Z" style="stroke-width:0.9"/>
    <path class="w" d="M5.5,-0.87 L5.5,-5.87 L10.45,-8.73 L10.45,-3.73 Z" style="stroke-width:0.9"/>
    <path class="w" d="M0.0,0.0 L22.0,12.54 L22.0,3.54 L16.5,0.4 L16.5,5.4 L5.5,-0.87 L5.5,-5.87 L0.0,-9.0 Z" style="stroke-width:1.1"/>
    <path class="w" d="M0.0,-9.0 L5.5,-5.87 L10.45,-8.73 L4.95,-11.86 Z" style="stroke-width:0.9"/>
    <path class="w" d="M16.5,0.4 L22.0,3.54 L26.95,0.68 L21.45,-2.46 Z" style="stroke-width:0.9"/>
    <path class="w" d="M22.0,12.54 L22.0,3.54 L26.95,0.68 L26.95,9.68 Z" style="stroke-width:1.1"/>
    <circle class="w" cx="2.7" cy="-3" r="0.9" style="stroke-width:0.7"/><circle class="w" cx="19.3" cy="6.5" r="0.9" style="stroke-width:0.7"/>
  </g>
</defs>
<g id="blocks">
  <use href="#ubr" x="625.9" y="613"/>
  <ellipse class="k" cx="641.8" cy="602.2" rx="1.9" ry="2.4"/><ellipse cx="641.8" cy="602.2" rx="0.7" ry="1" fill="#fff"/>
  <path class="s" d="M645.3,599.6 L660.4,591.6" style="stroke-width:3"/>
  <path class="s" d="M646,599.2 L660,591.8" style="stroke:#fff;stroke-width:1.1;stroke-dasharray:1.5 0.7"/>
  <ellipse class="k" cx="655" cy="610.2" rx="1.9" ry="2.4"/><ellipse cx="655" cy="610.2" rx="0.7" ry="1" fill="#fff"/>
  <path class="s" d="M657.8,608.4 L672.9,600.4" style="stroke-width:3"/>
  <path class="s" d="M658.5,608 L672.5,600.6" style="stroke:#fff;stroke-width:1.1;stroke-dasharray:1.5 0.7"/>
  <use href="#ubr" x="515.5" y="695"/>
  <ellipse class="k" cx="511" cy="695.2" rx="1.9" ry="2.4"/><ellipse cx="511" cy="695.2" rx="0.7" ry="1" fill="#fff"/>
  <ellipse class="k" cx="524.6" cy="703.6" rx="1.9" ry="2.4"/><ellipse cx="524.6" cy="703.6" rx="0.7" ry="1" fill="#fff"/>
  <path class="s" d="M486.7,709 L502.6,700.5" style="stroke-width:3"/>
  <path class="s" d="M487.5,708.6 L502,700.8" style="stroke:#fff;stroke-width:1.1;stroke-dasharray:1.5 0.7"/>
  <path class="s" d="M501,717.3 L517,709" style="stroke-width:3"/>
  <path class="s" d="M501.8,716.9 L516.4,709.3" style="stroke:#fff;stroke-width:1.1;stroke-dasharray:1.5 0.7"/>
</g>
<!-- ===== left bracket ===== -->
<g id="bracketL">
  <path class="w" d="M206,386.9 L214,382.4 L291.2,427.7 L282.3,434 Q279,438 274,438 Q240,433 220.2,432.2 Q211,434 210.4,440 Q209,450 212.2,458.8 Q220,470 230.8,478.3 Q245,492 248.6,497.9 L267.3,488 L248.6,500.5 L194.4,468.6 Z"/>
  <path class="s" d="M206,386.9 L282.3,431.3 M282.3,434 Q279,438 274,438 Q240,433 220.2,432.2 Q211,434 210.4,440 Q209,450 212.2,458.8 Q220,470 230.8,478.3 Q245,492 248.6,500.5 M214.9,460.6 L267.3,488 M211,439 L212,458"/>
  <use href="#hole" x="215.7" y="387.8"/><use href="#hole" x="281.5" y="426"/><use href="#hole" x="215.7" y="462.3"/><use href="#hole" x="257.5" y="487.2"/>
  <path class="s" d="M246.8,467 L246.8,494" style="stroke-width:0.9"/>
  <use href="#scr" x="246.8" y="453"/><use href="#nut" x="246.8" y="461.5"/><use href="#wsh" x="246.8" y="467.3"/>
</g>
<!-- ===== fan shroud ===== -->
<g id="shroud">
  <path class="s" d="M304.5,411.8 L310.5,415.2" style="stroke-width:2.2"/>
  <circle class="k" cx="303.8" cy="411.4" r="1.9"/>
  <path class="w" d="M301,432.4 L332,426.2 L333.3,453.3 L308,465.7 L302.5,444 Z" style="stroke-width:1.4"/>
  <path class="s" d="M301,432.4 L308,465.7" style="stroke-width:1.2"/>
  <path class="s" d="M308,439 L308,465" style="stroke-width:0.8"/>
  <path class="s" d="M310.5,438 L329,430 L329.5,453.3 L312.9,459 Z" style="stroke-width:1.1"/>
  <path class="k" d="M311.9,441 L319.5,436.2 L325.2,451.4 L312.9,456.2 Z"/>
  <path class="w" d="M301,424 L317,423 L317,431 Q309,436 301,432 Z" style="stroke-width:1"/>
  <ellipse class="w" cx="309" cy="423.8" rx="7.8" ry="3.8" transform="rotate(-12 309 423.8)" style="stroke-width:1.8"/>
  <ellipse class="s" cx="309.5" cy="423.3" rx="5" ry="2.2" transform="rotate(-12 309.5 423.3)" style="stroke-width:0.7"/>
  <path class="s" d="M301.5,428 Q309,432 317,427" style="stroke-width:0.7"/>
  <circle class="k" cx="331.5" cy="426.5" r="1.2"/><circle class="k" cx="308.5" cy="465" r="1.1"/><circle class="k" cx="330.5" cy="452" r="0.9"/><circle class="k" cx="320.5" cy="461" r="0.9"/><circle class="k" cx="331.5" cy="439" r="0.8"/><circle class="k" cx="309" cy="452" r="0.8"/>
</g>
<!-- ===== arrows ===== -->
<g id="arrows">
  <path d="M709.3,709.8 L668,618" stroke="#000" stroke-width="2.2" fill="none"/>
  <path d="M665.8,612 L661.5,622.5 L671,619.5 Z" fill="#000" stroke="#000" stroke-width="1"/>
  <path d="M707,707.5 L526,712.5" stroke="#000" stroke-width="2.2" fill="none"/>
  <path d="M519,712.7 L528,708 L528,717 Z" fill="#000" stroke="#000" stroke-width="1"/>
</g>
</svg>
<div id="callout"><div id="c1">101950</div><div id="c2">Socket Hd Cap Screw</div></div>
</body></html>
